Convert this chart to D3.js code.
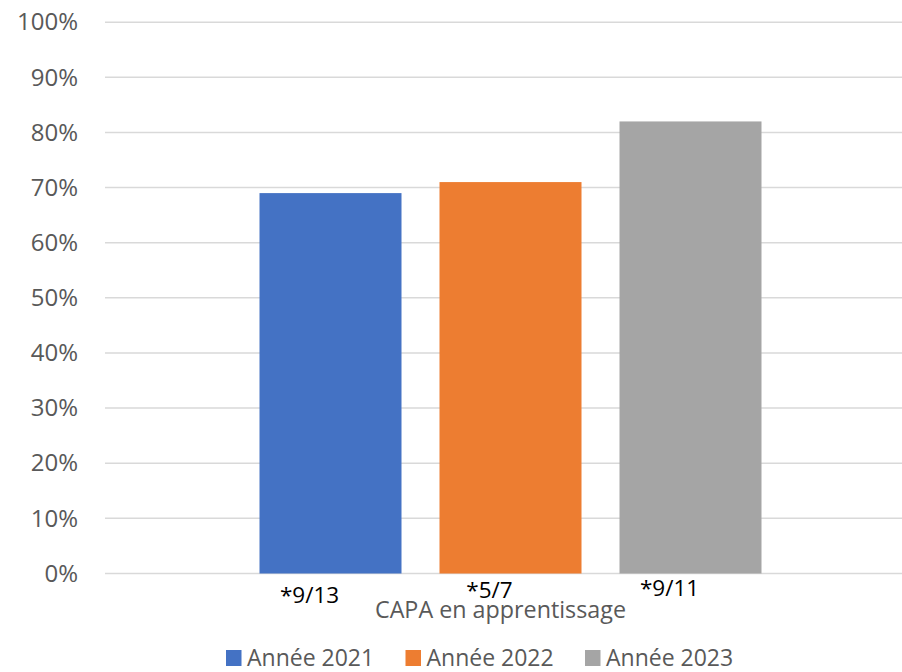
<!DOCTYPE html>
<html>
<head>
<meta charset="utf-8">
<script src="https://cdn.jsdelivr.net/npm/d3@7"></script>
<style>
  body { margin: 0; background: #fff; }
  svg { display: block; }
  text { font-family: "Open Sans", sans-serif; }
</style>
</head>
<body>
<svg id="chart" width="902" height="672"></svg>
<script>
// ---- data ----
const categories = ["CAPA en apprentissage"];
const seriesNames = ["Année 2021", "Année 2022", "Année 2023"];
const seriesValues = [0.69, 0.71, 0.82];
const seriesColors = ["#4472C4", "#ED7D31", "#A5A5A5"];
const barLabels = ["*9/13", "*5/7", "*9/11"];
const yTicks = [0, 0.1, 0.2, 0.3, 0.4, 0.5, 0.6, 0.7, 0.8, 0.9, 1.0];

// ---- layout ----
const svg = d3.select("#chart");
const plotLeft = 105, plotRight = 916, plotTop = 22.2, plotBottom = 573.5;
const labelDx = -21;
const labelBaselines = [602.5, 598, 596];

const y = d3.scaleLinear().domain([0, 1]).range([plotBottom, plotTop]);
const x0 = d3.scaleBand().domain(categories).range([plotLeft, plotRight]).paddingInner(0).paddingOuter(0);
const groupWidth = 502;
const x1 = d3.scaleBand().domain(seriesNames).paddingInner(38 / 180).paddingOuter(0);

// gridlines
svg.append("g").selectAll("line").data(yTicks).join("line")
  .attr("x1", plotLeft).attr("x2", plotRight)
  .attr("y1", d => y(d)).attr("y2", d => y(d))
  .attr("stroke", "#D9D9D9").attr("stroke-width", 1.5);

// y axis labels
const yAxis = d3.axisLeft(y).tickValues(yTicks).tickSize(0).tickPadding(0)
  .tickFormat(d3.format(".0%"));
const gy = svg.append("g").attr("transform", "translate(78,0)").call(yAxis);
gy.select(".domain").remove();
gy.selectAll("text").attr("fill", "#595959").style("font-size", "24px")
  .style("font-family", "'Open Sans', sans-serif");

// bars
const groups = svg.append("g").selectAll("g").data(categories).join("g")
  .each(function(cat) {
    const c = x0(cat) + x0.bandwidth() / 2;
    x1.range([c - groupWidth / 2, c + groupWidth / 2]);
    const g = d3.select(this);
    g.selectAll("rect").data(seriesNames).join("rect")
      .attr("x", s => x1(s))
      .attr("width", x1.bandwidth())
      .attr("y", (s, i) => y(seriesValues[i]))
      .attr("height", (s, i) => y(0) - y(seriesValues[i]))
      .attr("fill", (s, i) => seriesColors[i]);
    g.selectAll("text.lbl").data(barLabels).join("text")
      .attr("class", "lbl")
      .attr("x", (t, i) => x1(seriesNames[i]) + x1.bandwidth() / 2 + labelDx)
      .attr("y", (t, i) => labelBaselines[i])
      .attr("text-anchor", "middle")
      .attr("fill", "#000")
      .style("font-size", "22.5px")
      .text(t => t);
    g.append("text")
      .attr("x", c - 10)
      .attr("y", 618)
      .attr("text-anchor", "middle")
      .attr("fill", "#595959")
      .style("font-size", "23.3px")
      .text(cat);
  });

// legend
const legendX = [226, 405.5, 585];
const legend = svg.append("g").selectAll("g").data(seriesNames).join("g")
  .attr("transform", (d, i) => `translate(${legendX[i]},650)`);
legend.append("rect").attr("width", 15.5).attr("height", 16)
  .attr("fill", (d, i) => seriesColors[i]);
legend.append("text").attr("x", 21).attr("y", 16)
  .attr("fill", "#595959").style("font-size", "23px").text(d => d);
</script>
</body>
</html>
